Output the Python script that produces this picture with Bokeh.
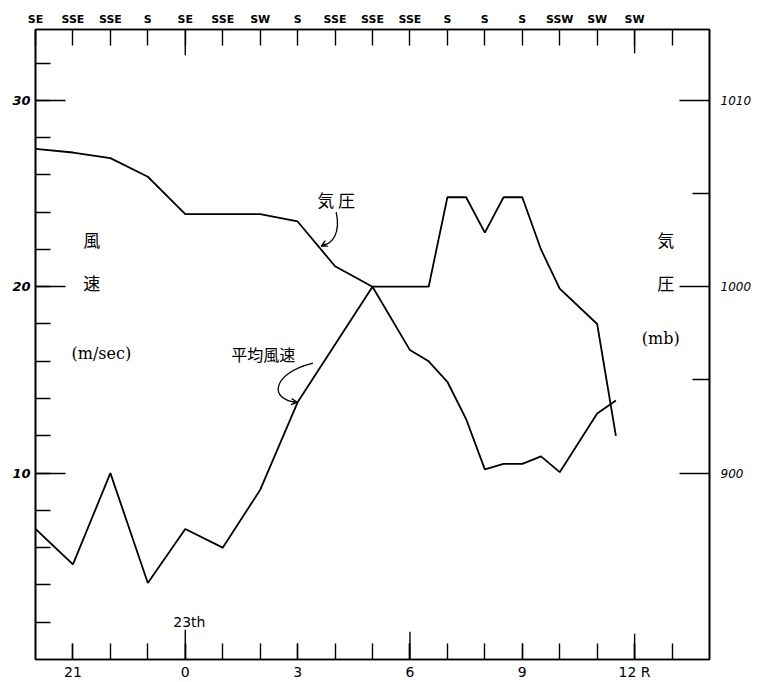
from bokeh.plotting import figure
from bokeh.models import Range1d, LinearAxis, FixedTicker, Arrow, OpenHead, ColumnDataSource
from bokeh.embed import file_html
from bokeh.resources import INLINE
from bokeh.core.properties import value

# ---- data (hours relative to 0h of the 23rd) ----
wind_hours = [-4, -3, -2, -1, 0, 1, 2, 3, 4, 5, 6, 6.5, 7, 7.5, 8, 8.5, 9, 9.5, 10, 11, 11.5]
wind_speed = [7.0, 5.1, 10.0, 4.1, 7.0, 6.0, 9.1, 13.8, 16.9, 20.0, 16.6, 16.0, 14.9, 12.9,
              10.2, 10.5, 10.5, 10.9, 10.05, 13.2, 13.9]

pres_hours = [-4, -3, -2, -1, 0, 1, 2, 3, 4, 5, 6, 6.5, 7, 7.5, 8, 8.5, 9, 9.5, 10, 11, 11.5]
pressure = [1007.4, 1007.2, 1006.9, 1005.9, 1003.9, 1003.9, 1003.9, 1003.5, 1001.1, 1000.0,
            1000.0, 1000.0, 1004.8, 1004.8, 1002.9, 1004.8, 1004.8, 1002.0, 999.9, 998.0, 992.0]

dir_hours = [-4, -3, -2, -1, 0, 1, 2, 3, 4, 5, 6, 7, 8, 9, 10, 11, 12, 13]
directions = ["SE", "SSE", "SSE", "S", "SE", "SSE", "SW", "S", "SSE", "SSE", "SSE",
              "S", "S", "S", "SSW", "SW", "SW", ""]

time_ticks = [-3, 0, 3, 6, 9, 12]
time_labels = ["21", "0", "3", "6", "9", "12 R"]
hour_ticks = [-3, -2, -1, 0, 1, 2, 3, 4, 5, 6, 7, 8, 9, 10, 11, 12, 13]

wind_ticks = [10, 20, 30]
wind_minor = [2, 4, 6, 8, 10, 12, 14, 16, 18, 20, 22, 24, 26, 28, 30, 32]
pres_ticks = [990, 1000, 1010]
pres_tick_labels = ["900", "1000", "1010"]
pres_minor = [995, 1005]

X0, X1 = -4, 14
Y0, Y1 = 0, 33.8
P0 = 980

p = figure(width=759, height=682, x_range=Range1d(X0, X1), y_range=Range1d(Y0, Y1),
           output_backend="svg", toolbar_location=None,
           min_border_left=35, min_border_right=50, min_border_top=29, min_border_bottom=19,
           x_axis_location="below", y_axis_location="left")
p.extra_y_ranges = {"p": Range1d(P0, P0 + (Y1 - Y0))}
p.xgrid.visible = False
p.ygrid.visible = False
p.outline_line_color = "black"
p.outline_line_width = 1.6
p.background_fill_color = "white"
p.border_fill_color = "white"

# bottom axis (time)
xa = p.xaxis[0]
xa.ticker = FixedTicker(ticks=time_ticks, minor_ticks=hour_ticks)
xa.major_label_overrides = {t: l for t, l in zip(time_ticks, time_labels)}
xa.major_tick_in = 16
xa.major_tick_out = 0
xa.minor_tick_in = 16
xa.minor_tick_out = 0
xa.major_tick_line_width = 1.4
xa.minor_tick_line_width = 1.4
xa.axis_line_width = 1.6
xa.major_label_standoff = 4
xa.major_label_text_font = "DejaVu Sans"
xa.major_label_text_font_size = "14px"
xa.major_label_text_color = "black"

# left axis (wind speed)
ya = p.yaxis[0]
ya.ticker = FixedTicker(ticks=wind_ticks, minor_ticks=wind_minor)
ya.major_tick_in = 30
ya.major_tick_out = 0
ya.minor_tick_in = 15
ya.minor_tick_out = 0
ya.major_tick_line_width = 1.4
ya.minor_tick_line_width = 1.4
ya.axis_line_width = 1.6
ya.major_label_standoff = 5
ya.major_label_text_font = "DejaVu Sans"
ya.major_label_text_font_style = "bold italic"
ya.major_label_text_font_size = "13px"
ya.major_label_text_color = "black"

# right axis (pressure)
ra = LinearAxis(y_range_name="p")
ra.ticker = FixedTicker(ticks=pres_ticks, minor_ticks=pres_minor)
ra.major_label_overrides = {t: l for t, l in zip(pres_ticks, pres_tick_labels)}
ra.major_tick_in = 30
ra.major_tick_out = 0
ra.minor_tick_in = 17
ra.minor_tick_out = 0
ra.major_tick_line_width = 1.4
ra.minor_tick_line_width = 1.4
ra.axis_line_width = 1.6
ra.major_label_standoff = 11
ra.major_label_text_font = "DejaVu Sans"
ra.major_label_text_font_style = "italic"
ra.major_label_text_font_size = "12px"
ra.major_label_text_color = "black"
p.add_layout(ra, "right")

# top axis (wind direction)
ta = LinearAxis()
ta.ticker = FixedTicker(ticks=dir_hours, minor_ticks=[])
ta.major_label_overrides = {h: d for h, d in zip(dir_hours, directions)}
ta.major_tick_in = 16
ta.major_tick_out = 0
ta.major_tick_line_width = 1.4
ta.axis_line_width = 1.6
ta.major_label_standoff = 4
ta.major_label_text_font = "DejaVu Sans"
ta.major_label_text_font_style = "bold"
ta.major_label_text_font_size = "11px"
ta.major_label_text_color = "black"
p.add_layout(ta, "above")

# longer hand-drawn ticks
px_per_unit = 634 / (Y1 - Y0)
long_bottom = [0, 6, 12]
long_bottom_len = [30, 28, 26]
p.segment(x0=long_bottom, y0=[Y0] * 3, x1=long_bottom,
          y1=[Y0 + l / px_per_unit for l in long_bottom_len], line_color="black", line_width=1.4)
long_top = [0, 12]
long_top_len = [26, 24]
p.segment(x0=long_top, y0=[Y1] * 2, x1=long_top,
          y1=[Y1 - l / px_per_unit for l in long_top_len], line_color="black", line_width=1.4)

# data lines
p.line(pres_hours, pressure, y_range_name="p", line_color="black", line_width=1.8)
p.line(wind_hours, wind_speed, line_color="black", line_width=1.8)

# labels
jp = value("Noto Sans CJK JP")
lab = ColumnDataSource(dict(
    x=[-2.5, -2.5, 12.83, 12.83, 4.03, 2.08],
    y=[22.55, 20.2, 22.55, 20.2, 24.7, 16.4],
    t=["風", "速", "気", "圧", "気 圧", "平均風速"],
    s=["17px", "17px", "17px", "17px", "17px", "16px"],
))
p.text(x="x", y="y", text="t", source=lab, text_font=jp, text_font_size="s",
       text_align="center", text_baseline="middle", text_color="black")
p.text(x=[-2.24, 12.7], y=[16.4, 17.2], text=["(m/sec)", "(mb)"], text_font=value("DejaVu Serif"),
       text_font_size="16px", text_align="center", text_baseline="middle", text_color="black")
p.text(x=[-0.32], y=[2.0], text=["23th"], text_font=value("DejaVu Sans"),
       text_font_size="14px", text_align="left", text_baseline="middle", text_color="black")

# curved pointer arrows
p.bezier(x0=[4.03, 3.41], y0=[24.0, 15.9], x1=[3.63, 2.99], y1=[22.18, 13.8],
         cx0=[4.15, 2.3], cy0=[22.9, 15.35], cx1=[3.95, 2.22], cy1=[22.3, 13.9],
         line_color="black", line_width=1.3)
p.add_layout(Arrow(end=OpenHead(size=6, line_width=1.3), x_start=3.75, y_start=22.3,
                   x_end=3.63, y_end=22.18, line_width=1.3))
p.add_layout(Arrow(end=OpenHead(size=6, line_width=1.3), x_start=2.85, y_start=13.83,
                   x_end=2.99, y_end=13.8, line_width=1.3))

html = file_html(p, INLINE)
html = html.replace("</head>", "<style>html,body{overflow:hidden;}</style></head>", 1)
open("out.html", "w").write(html)
